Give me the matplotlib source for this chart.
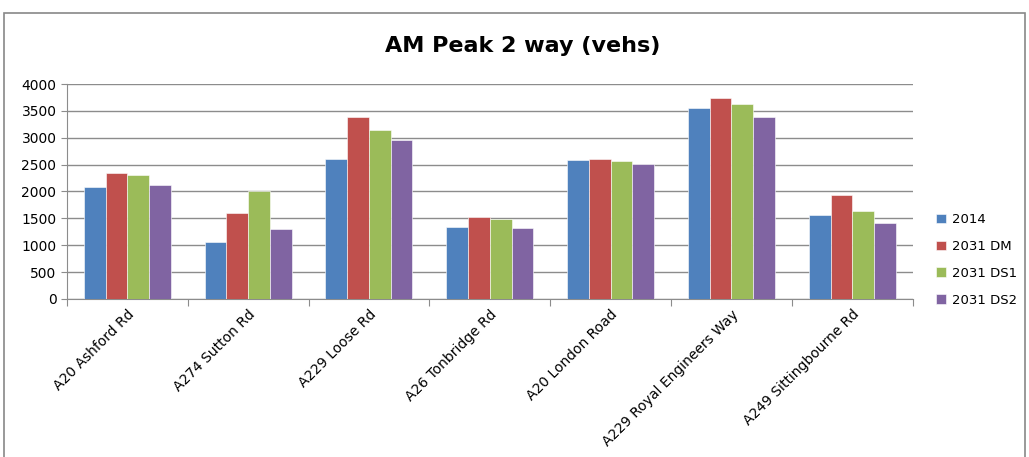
import numpy as np
import matplotlib.pyplot as plt
from matplotlib.patches import Rectangle

roads = ["A20 Ashford Rd", "A274 Sutton Rd", "A229 Loose Rd", "A26 Tonbridge Rd",
         "A20 London Road", "A229 Royal Engineers Way", "A249 Sittingbourne Rd"]
series_names = ["2014", "2031 DM", "2031 DS1", "2031 DS2"]
v2014 = [2085, 1065, 2605, 1340, 2590, 3555, 1555]
v2031_dm = [2345, 1600, 3380, 1525, 2605, 3740, 1935]
v2031_ds1 = [2315, 2000, 3150, 1495, 2570, 3630, 1630]
v2031_ds2 = [2120, 1310, 2960, 1325, 2510, 3380, 1415]
colors = ["#4f81bd", "#c0504d", "#9bbb59", "#8064a2"]

fig = plt.figure(figsize=(10.29, 4.57), dpi=100)
ax = fig.add_axes([0.065, 0.346, 0.822, 0.470])

# outer chart frame
fig.patches.append(Rectangle((4 / 1029, -0.05), 1021 / 1029, 1.0 - 13 / 457 + 0.05,
                             transform=fig.transFigure, fill=False,
                             edgecolor="#888888", linewidth=1.2))

x = np.arange(len(roads))
w = 0.18
for i, (vals, name) in enumerate(zip([v2014, v2031_dm, v2031_ds1, v2031_ds2], series_names)):
    ax.bar(x + (i - 1.5) * w, vals, width=w, color=colors[i], label=name, zorder=3,
           edgecolor="white", linewidth=0.4)

ax.set_xlim(-0.5, len(roads) - 0.5)
ax.set_ylim(0, 4000)
ax.set_yticks(range(0, 4001, 500))
ax.yaxis.grid(True, color="#8c8c8c", linewidth=1.0, zorder=0)
ax.tick_params(axis="y", labelsize=10, length=4, color="#8c8c8c")

ax.set_xticks(np.arange(-0.5, len(roads), 1.0))
ax.set_xticklabels([])
ax.set_xticks(x, minor=True)
ax.set_xticklabels(roads, minor=True, rotation=45, ha="right", rotation_mode="anchor",
                   fontsize=10)
ax.tick_params(axis="x", which="major", length=5, color="#8c8c8c")
ax.tick_params(axis="x", which="minor", length=0, pad=6)

for s in ["top", "right"]:
    ax.spines[s].set_visible(False)
for s in ["left", "bottom"]:
    ax.spines[s].set_color("#8c8c8c")

fig.text(0.508, 0.9, "AM Peak 2 way (vehs)", ha="center", va="center",
         fontsize=16, fontweight="bold")

ax.legend(loc="upper left", bbox_to_anchor=(1.028, 0.40), frameon=False,
          fontsize=9.5, handlelength=0.7, handleheight=0.7, labelspacing=1.05,
          handletextpad=0.5, borderpad=0, borderaxespad=0)

fig.savefig("out.png", dpi=100)
